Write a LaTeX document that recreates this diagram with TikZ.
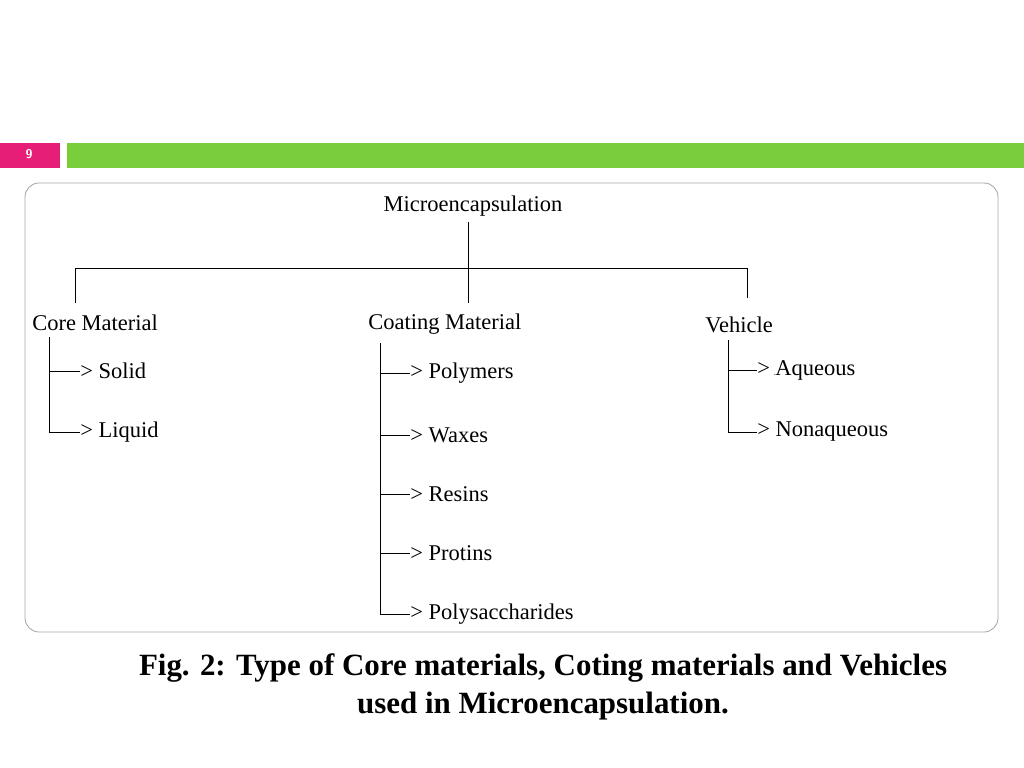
\documentclass[tikz,border=0pt]{standalone}
\usepackage{fontspec}
\setmainfont{Liberation Serif}
\usetikzlibrary{positioning}
\definecolor{slidepink}{RGB}{230,30,120}
\definecolor{slidegreen}{RGB}{122,206,60}
\tikzset{
  heading/.style={font=\fontsize{16}{18}\selectfont, inner sep=0pt, anchor=west},
  item/.style={font=\fontsize{16}{18}\selectfont, inner sep=0pt, anchor=west},
  branch/.style={line width=0.6pt, black},
}
\begin{document}
\begin{tikzpicture}[x=0.025cm,y=-0.025cm]
  \useasboundingbox (0,0) rectangle (1024,768);
  % slide header
  \fill[slidepink] (0,143) rectangle (60,168);
  \node (pagenum) at (29,154) [text=white, font=\sffamily\bfseries\fontsize{9}{10}\selectfont] {9};
  \fill[slidegreen] (67,143) rectangle (1024,168);
  \draw[gray!70, rounded corners=10pt, line width=0.6pt] (25,183) rectangle (998,632);

  % tree heads
  \node (micro) at (473,206) [font=\fontsize{16}{18}\selectfont] {Microencapsulation};
  \node (core) at (32,323) [heading] {Core Material};
  \node (coating) at (368,324) [heading] {Coating Material};
  \node (vehicle) at (705,325) [heading] {Vehicle};

  \coordinate (split) at (468,268);
  \draw[branch] (468,222) -- (split);
  \draw[branch] (75,303) -- (75,268) -- (747,268) -- (747,298);
  \draw[branch] (split) -- (468,303);

  % core
  \node (solid) at (80,371) [item] {> Solid};
  \node (liquid) at (80,432) [item] {> Liquid};
  \draw[branch] (49,337) -- (49,432) -- (liquid.west);
  \draw[branch] (49,371) -- (solid.west);

  % coating
  \node (polymers) at (410,373) [item] {> Polymers};
  \node (waxes) at (410,435) [item] {> Waxes};
  \node (resins) at (410,494) [item] {> Resins};
  \node (protins) at (410,553) [item] {> Protins};
  \node (polysac) at (410,614) [item] {> Polysaccharides};
  \draw[branch] (380,343) -- (380,614) -- (polysac.west);
  \foreach \n/\y in {polymers/373, waxes/435, resins/494, protins/553}
    \draw[branch] (380,\y) -- (\n.west);

  % vehicle
  \node (aqueous) at (757,370) [item] {>\,{\tiny.}Aqueous};
  \node (nonaq) at (757,432) [item] {> Nonaqueous};
  \draw[branch] (728,340) -- (728,432) -- (nonaq.west);
  \draw[branch] (728,370) -- (aqueous.west);

  % caption
  \node (caption) at (543,687) [align=center, font=\bfseries\fontsize{22}{27}\selectfont]
    {Fig. 2: Type of Core materials, Coting materials and Vehicles\\used in Microencapsulation.};
\end{tikzpicture}
\end{document}
